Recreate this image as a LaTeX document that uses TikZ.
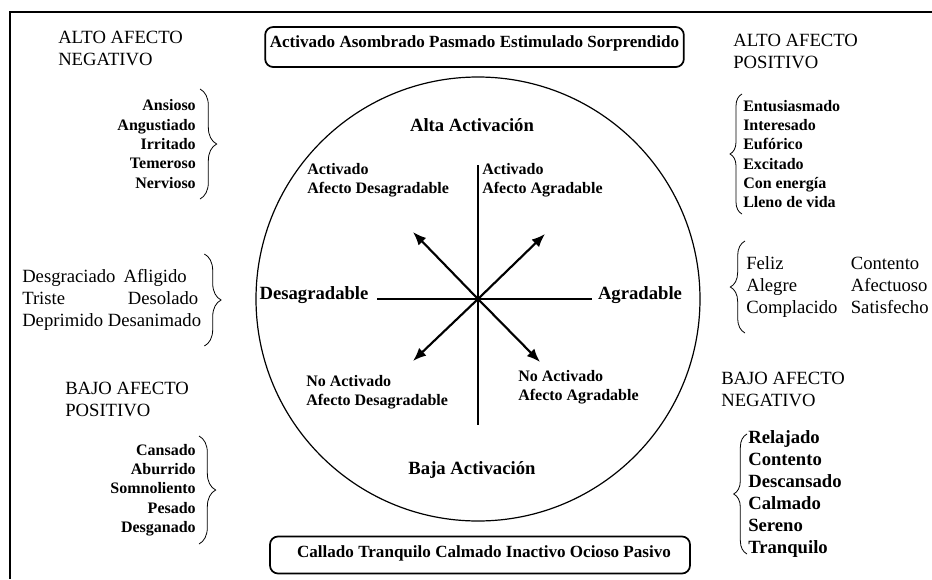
\documentclass[tikz,border=0pt]{standalone}
\usepackage{fontspec}
\setmainfont{Liberation Serif}
\usetikzlibrary{arrows.meta,decorations.pathreplacing}
\tikzset{
	sm/.style={font=\fontsize{12}{14.5}\selectfont\bfseries,inner sep=0pt,align=left},
	big/.style={font=\fontsize{14}{16.5}\selectfont,inner sep=0pt,align=left},
	bigb/.style={big,font=\fontsize{14}{16.5}\selectfont\bfseries},
	axis/.style={line width=0.8pt},
	vec/.style={line width=1.6pt,-{Latex[length=10pt,width=8pt]}},
	brc/.style={decorate,decoration={brace,amplitude=#1},line width=0.6pt},
	brc/.default=11pt,
	wbox/.style={draw,rounded corners=6pt,line width=1.3pt,inner sep=0pt,font=\fontsize{12.8}{15}\selectfont\bfseries}
}
\begin{document}
\begin{tikzpicture}[x=0.75pt,y=-0.75pt]
	\useasboundingbox (0,0) rectangle (932,579);
	\draw[line width=1.2pt] (932,12) -- (10,12) -- (10,579);

	% circulo y ejes
	\coordinate (o) at (478,299);
	\coordinate (up) at (478,165);
	\coordinate (down) at (478,425);
	\coordinate (lf) at (377,299);
	\coordinate (rt) at (592,299);
	\coordinate (nw) at (413,232);
	\coordinate (ne) at (545,234);
	\coordinate (sw) at (413,361);
	\coordinate (se) at (540,362);
	\draw[line width=0.9pt] (o) circle (222);
	\draw[axis] (up) -- (down);
	\draw[axis] (lf) -- (rt);
	\foreach \p in {nw,ne,sw,se}
		\draw[vec] (o) -- (\p);

	\node[bigb] (alta) at (472,125) {Alta Activación};
	\node[bigb] (baja) at (472,470) {Baja Activación};
	\node[bigb] (desagr) at (314,295) {Desagradable};
	\node[bigb] (agr) at (640,295) {Agradable};
	\node[sm,anchor=west] (q1) at (307,180) {Activado\\Afecto Desagradable};
	\node[sm,anchor=west] (q2) at (482,180) {Activado\\Afecto Agradable};
	\node[sm,anchor=west] (q3) at (306,392) {No Activado\\Afecto Desagradable};
	\node[sm,anchor=west] (q4) at (518,387) {No Activado\\Afecto Agradable};

	\node[wbox,minimum width=314pt,minimum height=30pt,text depth=8pt] (activ) at (474.5,47) {Activado Asombrado Pasmado Estimulado Sorprendido};
	\node[wbox,minimum width=315pt,minimum height=27.75pt,text depth=5pt] (call) at (480,555) {\hspace{6pt}Callado Tranquilo Calmado Inactivo Ocioso Pasivo};

	% esquinas
	\node[big,anchor=west] (hTL) at (58,48) {ALTO AFECTO\\NEGATIVO};
	\node[big,anchor=west] (hTR) at (733,51) {ALTO AFECTO\\POSITIVO};
	\node[big,anchor=west] (hBL) at (65,399) {BAJO AFECTO\\POSITIVO};
	\node[big,anchor=west] (hBR) at (721,389) {BAJO AFECTO\\NEGATIVO};

	\node[sm,align=right,anchor=east] (anx) at (196,144) {Ansioso\\Angustiado\\Irritado\\Temeroso\\Nervioso};
	\node[sm,anchor=west] (ent) at (743,154) {Entusiasmado\\Interesado\\Eufórico\\Excitado\\Con energía\\Lleno de vida};
	\node[big,anchor=west] (desg) at (22,300) {Desgraciado\hspace{6pt}Afligido\\Triste\hspace{47pt}Desolado\\Deprimido Desanimado};
	\node[big,anchor=west] (fel) at (746,287) {\begin{tabular}{@{}l@{\hspace{10pt}}l@{}}Feliz & Contento\\Alegre & Afectuoso\\Complacido & Satisfecho\end{tabular}};
	\node[sm,align=right,anchor=east] (cans) at (196,490) {Cansado\\Aburrido\\Somnoliento\\Pesado\\Desganado};
	\node[bigb,anchor=west] (rel) at (748,494) {Relajado\\Contento\\Descansado\\Calmado\\Sereno\\Tranquilo};

	\draw[brc=12.5pt] ([shift={(4,-55)}]anx.east) -- ([shift={(4,55)}]anx.east);
	\draw[brc=12.5pt] ([shift={(3,-46)}]desg.east) -- ([shift={(3,46)}]desg.east);
	\draw[brc=12.5pt] ([shift={(3,-54)}]cans.east) -- ([shift={(3,54)}]cans.east);
	\draw[brc=9pt] ([shift={(-1,60)}]ent.west) -- ([shift={(-1,-60)}]ent.west);
	\draw[brc] ([shift={(-1,46)}]fel.west) -- ([shift={(-1,-46)}]fel.west);
	\draw[brc=10pt] ([shift={(-1,60)}]rel.west) -- ([shift={(-1,-60)}]rel.west);
\end{tikzpicture}
\end{document}
